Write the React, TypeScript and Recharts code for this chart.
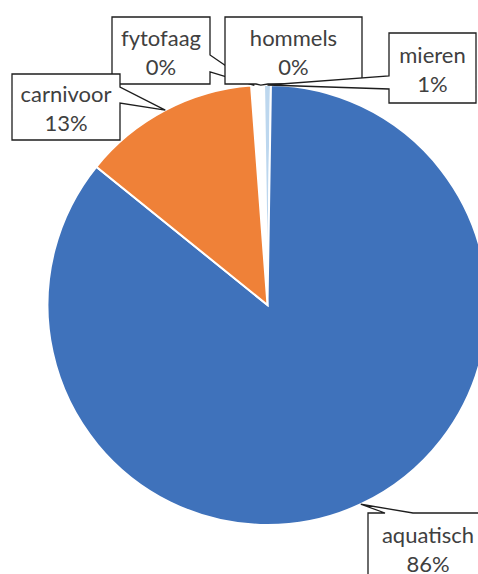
import { Cell, Pie, PieChart } from 'recharts'

const categories = ['fytofaag', 'hommels', 'mieren', 'aquatisch', 'carnivoor']
const shares = [0.47, 0.47, 0.5, 85.56, 13.0]
const colors = ['#FFFFFF', '#FFFFFF', '#BDD7EE', '#3F72BB', '#EF8138']

const data = categories.map((name, i) => ({ name, value: shares[i] }))

// the thin mieren slice straddles 12 o'clock, the two empty slices sit just left of it
const total = shares.reduce((s, v) => s + v, 0)
const startAngle = 90 + (360 * (shares[0] + shares[1] + shares[2] / 2)) / total

type Side = 'top' | 'right' | 'bottom' | 'left'
interface Callout { x: number; y: number; w: number; h: number; side: Side; a: number; b: number }

// callout boxes were dragged by hand in the original chart
const callouts: Record<string, Callout> = {
  fytofaag: { x: 112, y: 17, w: 98, h: 67, side: 'right', a: 55, b: 72 },
  hommels: { x: 225, y: 17, w: 137, h: 67, side: 'bottom', a: 256, b: 268 },
  mieren: { x: 389, y: 33, w: 87, h: 70, side: 'left', a: 76, b: 89 },
  aquatisch: { x: 368, y: 513, w: 120, h: 70, side: 'top', a: 385, b: 413 },
  carnivoor: { x: 12, y: 74, w: 108, h: 66, side: 'right', a: 87, b: 103 },
}

function calloutPath(c: Callout, tx: number, ty: number) {
  const { x, y, w, h, side, a, b } = c
  const r = x + w
  const btm = y + h
  const pts: number[][] = [[x, y]]
  if (side === 'top') pts.push([a, y], [tx, ty], [b, y])
  pts.push([r, y])
  if (side === 'right') pts.push([r, a], [tx, ty], [r, b])
  pts.push([r, btm])
  if (side === 'bottom') pts.push([b, btm], [tx, ty], [a, btm])
  pts.push([x, btm])
  if (side === 'left') pts.push([x, b], [tx, ty], [x, a])
  return 'M' + pts.map((p) => p.join(',')).join('L') + 'Z'
}

const renderCallout = (props: any) => {
  const { cx, cy, midAngle, outerRadius, percent, index } = props
  const name: string = props.payload?.name ?? props.name ?? categories[index]
  const c = callouts[name]
  if (!c) return null
  const rad = Math.PI / 180
  const tx = cx + outerRadius * Math.cos(-midAngle * rad)
  const ty = cy + outerRadius * Math.sin(-midAngle * rad)
  const mx = c.x + c.w / 2
  const my = c.y + c.h / 2
  return (
    <g key={name}>
      <path d={calloutPath(c, tx, ty)} fill="#FFFFFF" stroke="#1E1E1E" strokeWidth={1.3} />
      <text x={mx} y={my - 5} textAnchor="middle" fill="#404040" fontSize={22} fontFamily="Lato">
        {name}
      </text>
      <text x={mx} y={my + 24} textAnchor="middle" fill="#404040" fontSize={22} fontFamily="Lato">
        {Math.round(percent * 100)}%
      </text>
    </g>
  )
}

export default function App() {
  return (
    <div style={{ position: 'absolute', left: 0, top: 0, background: '#fff' }}>
      <PieChart width={478} height={574} margin={{ top: 0, right: 0, bottom: 0, left: 0 }}>
        <Pie
          data={data}
          dataKey="value"
          nameKey="name"
          cx={267.5}
          cy={305}
          outerRadius={220}
          startAngle={startAngle}
          endAngle={startAngle - 360}
          stroke="#FFFFFF"
          strokeWidth={2}
          label={renderCallout}
          labelLine={false}
          isAnimationActive={false}
        >
          {data.map((d, i) => (
            <Cell key={d.name} fill={colors[i]} />
          ))}
        </Pie>
      </PieChart>
    </div>
  )
}
